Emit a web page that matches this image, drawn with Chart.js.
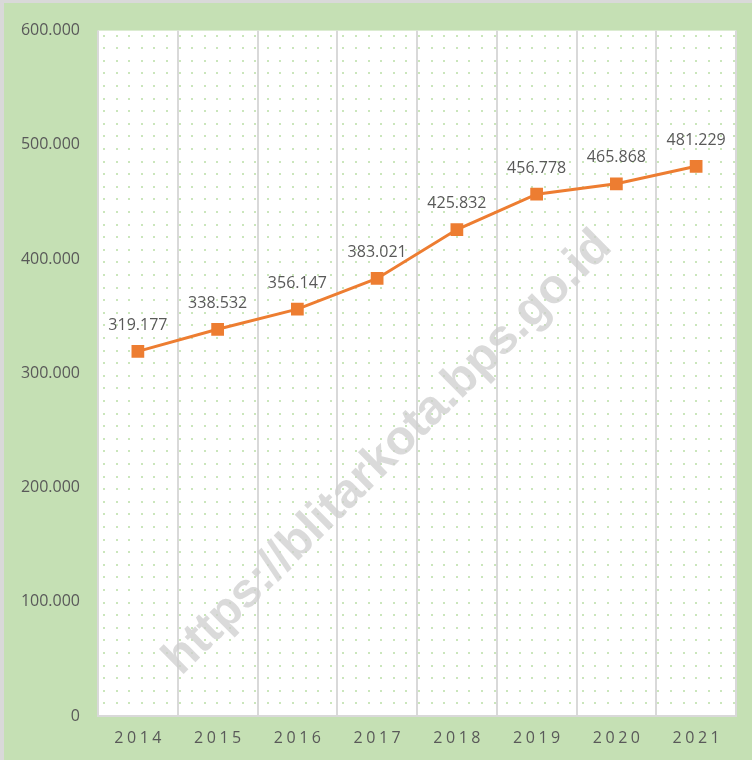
<!DOCTYPE html>
<html>
<head>
<meta charset="utf-8">
<script src="https://cdn.jsdelivr.net/npm/chart.js@4.4.1/dist/chart.umd.min.js"></script>
<style>
  html, body { margin: 0; padding: 0; background: #d9d9d9; }
  #wrap { position: absolute; left: 4px; top: 3px; width: 748px; height: 757px; background: #c5e0b4; }
  canvas { display: block; }
</style>
</head>
<body>
<div id="wrap"><canvas id="c" width="748" height="757"></canvas></div>
<script>
const years = ['2014', '2015', '2016', '2017', '2018', '2019', '2020', '2021'];
const values = [319177, 338532, 356147, 383021, 425832, 456778, 465868, 481229];
const yTicks = [0, 100000, 200000, 300000, 400000, 500000, 600000];
const watermark = 'https://blitarkota.bps.go.id';

const FONT = '"Open Sans", "Liberation Sans", sans-serif';
const TEXT = '#595959';
const ORANGE = '#ed7d31';

function fmt(v) {
  return v.toLocaleString('de-DE');
}

const bgPlugin = {
  id: 'bg',
  beforeDraw(chart) {
    const { ctx, chartArea: a } = chart;
    ctx.save();
    ctx.fillStyle = '#ffffff';
    ctx.fillRect(a.left, a.top, a.right - a.left, a.bottom - a.top);
    ctx.fillStyle = 'rgba(150,205,120,0.5)';
    const step = 12.6;
    for (let y = a.top + 4; y < a.bottom - 1; y += step) {
      for (let x = a.left + 5; x < a.right - 1; x += step) {
        ctx.fillRect(Math.round(x), Math.round(y), 2, 2);
      }
    }
    ctx.restore();
  },
  beforeDatasetsDraw(chart) {
    const { ctx } = chart;
    ctx.save();
    ctx.translate(384, 450);
    ctx.rotate(-44.7 * Math.PI / 180);
    let size = 40;
    ctx.font = 'bold ' + size + 'px "Liberation Sans", Arial, sans-serif';
    const w = ctx.measureText(watermark).width;
    size = size * 608 / w;
    ctx.font = 'bold ' + size.toFixed(2) + 'px "Liberation Sans", Arial, sans-serif';
    ctx.fillStyle = 'rgba(205,205,205,0.75)';
    ctx.textAlign = 'center';
    ctx.textBaseline = 'middle';
    ctx.fillText(watermark, 0, 0);
    ctx.restore();
  },
  afterDatasetsDraw(chart) {
    const { ctx } = chart;
    const meta = chart.getDatasetMeta(0);
    ctx.save();
    ctx.font = '16px ' + FONT;
    ctx.fillStyle = TEXT;
    ctx.textAlign = 'center';
    ctx.textBaseline = 'middle';
    meta.data.forEach((pt, i) => {
      ctx.fillText(fmt(values[i]), pt.x, pt.y - 26);
    });
    const xs = chart.scales.x;
    ctx.font = '16px ' + FONT;
    ctx.letterSpacing = '3.5px';
    ctx.textAlign = 'left';
    years.forEach((yr, i) => {
      const x = xs.getPixelForTick(i);
      const w = ctx.measureText(yr).width - 3.5;
      ctx.fillText(yr, x - w / 2, 735);
    });
    ctx.restore();
  }
};

new Chart(document.getElementById('c'), {
  type: 'line',
  data: {
    labels: years,
    datasets: [{
      data: values,
      borderColor: ORANGE,
      backgroundColor: ORANGE,
      borderWidth: 3,
      pointStyle: 'rect',
      pointRadius: 9,
      pointHoverRadius: 9,
      pointBorderWidth: 0,
      tension: 0,
      fill: false
    }]
  },
  options: {
    responsive: false,
    animation: false,
    devicePixelRatio: 1,
    layout: { padding: { left: 0, top: 24, right: 16, bottom: 0 } },
    plugins: { legend: { display: false }, tooltip: { enabled: false } },
    scales: {
      x: {
        type: 'category',
        offset: true,
        grid: { display: true, offset: true, color: '#d9d9d9', lineWidth: 2, drawTicks: false },
        border: { display: true, color: '#d9d9d9', width: 2 },
        ticks: { color: 'rgba(0,0,0,0)', font: { size: 16, family: FONT } },
        afterFit(scale) { scale.height = 44; }
      },
      y: {
        min: 0,
        max: 600000,
        afterBuildTicks(scale) { scale.ticks = yTicks.map(v => ({ value: v })); },
        grid: { display: false, drawTicks: false },
        border: { display: false },
        ticks: {
          color: TEXT,
          padding: 18,
          font: { size: 16, family: FONT },
          callback: (v) => fmt(v)
        },
        afterFit(scale) { scale.width = 94; }
      }
    }
  },
  plugins: [bgPlugin]
});
</script>
</body>
</html>
